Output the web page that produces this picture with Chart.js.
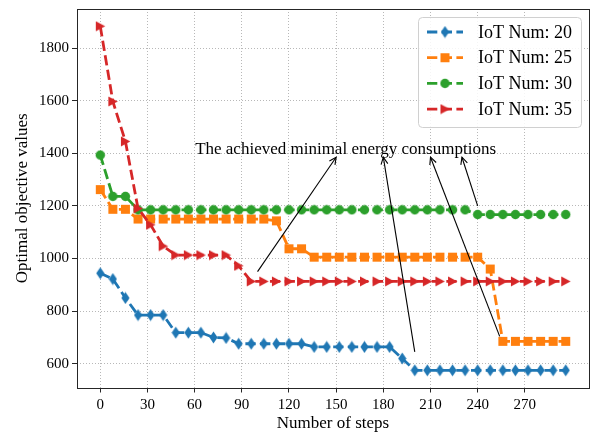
<!DOCTYPE html>
<html><head><meta charset="utf-8">
<script src="https://cdn.jsdelivr.net/npm/chart.js@4/dist/chart.umd.min.js"></script>
<style>html,body{margin:0;padding:0;background:#fff}#wrap{width:592px;height:435px}</style>
</head><body><div id="wrap"><canvas id="c" width="592" height="435"></canvas></div>
<script>
// ---- data ----
const steps = [0,8,16,24,32,40,48,56,64,72,80,88,96,104,112,120,128,136,144,152,160,168,176,184,192,200,208,216,224,232,240,248,256,264,272,280,288,296];
const iot20 = [944,922,850,785,785,785,718,718,718,700,698,676,676,676,676,676,676,664,664,664,664,664,664,664,620,575,575,575,575,575,575,575,575,575,575,575,575,575];
const iot25 = [1262,1187,1187,1150,1150,1150,1150,1150,1150,1150,1150,1150,1150,1150,1143,1037,1037,1005,1005,1005,1005,1005,1005,1005,1005,1005,1005,1005,1005,1005,1005,960,685,685,685,685,685,685];
const iot30 = [1393,1236,1236,1185,1185,1185,1185,1185,1185,1185,1185,1185,1185,1185,1185,1185,1185,1185,1185,1185,1185,1185,1185,1185,1185,1185,1185,1185,1185,1185,1167,1167,1167,1167,1167,1167,1167,1167];
const iot35 = [1883,1597,1445,1190,1128,1047,1013,1013,1013,1013,1013,972,913,913,913,913,913,913,913,913,913,913,913,913,913,913,913,913,913,913,913,913,913,913,913,913,913,913];
const seriesLabels = ['IoT Num: 20','IoT Num: 25','IoT Num: 30','IoT Num: 35'];
const xTicks = [0,30,60,90,120,150,180,210,240,270];
const xTickLabels = ['0','30','60','90','120','150','180','210','240','270'];
const yTicks = [600,800,1000,1200,1400,1600,1800];
const yTickLabels = ['600','800','1000','1200','1400','1600','1800'];
const xTitle = 'Number of steps';
const yTitle = 'Optimal objective values';
const annText = 'The achieved minimal energy consumptions';
const annTextPos = [156, 1397];
const arrowFrom = [[100,950],[200,645],[254,704],[240,1200]];
const arrowTo = [[150,1385],[180,1385],[210,1385],[230,1385]];

// ---- styles ----
const colors = ['#1f77b4','#ff7f0e','#2ca02c','#d62728'];
const FONT = '"Liberation Serif","Times New Roman",serif';

function marker(shape, color){
  const c = document.createElement('canvas');
  let w = 11, h = 11;
  if (shape === 'diamond'){ w = 9; h = 13; }
  c.width = w; c.height = h;
  const g = c.getContext('2d');
  g.fillStyle = color;
  g.beginPath();
  if (shape === 'diamond'){ g.moveTo(4.5,0.4); g.lineTo(8.6,6.5); g.lineTo(4.5,12.6); g.lineTo(0.4,6.5); g.closePath(); }
  else if (shape === 'square'){ g.rect(1,1,9,9); }
  else if (shape === 'circle'){ g.arc(5.5,5.5,4.7,0,Math.PI*2); }
  else { g.moveTo(1,0.6); g.lineTo(10.4,5.5); g.lineTo(1,10.4); g.closePath(); }
  g.fill();
  return c;
}
const markers = [marker('diamond',colors[0]), marker('square',colors[1]), marker('circle',colors[2]), marker('tri',colors[3])];
const seriesData = [iot20, iot25, iot30, iot35];

const datasets = seriesData.map((vals,i)=>({
  label: seriesLabels[i],
  data: steps.map((s,k)=>({x:s, y:vals[k]})),
  borderColor: colors[i],
  backgroundColor: colors[i],
  borderWidth: 2.8,
  borderDash: [10.3,4.4],
  pointStyle: markers[i],
  pointRadius: 5,
  pointHoverRadius: 5,
  tension: 0,
  fill: false,
  order: 4 - i
}));

function drawArrow(ctx, x1, y1, x2, y2){
  ctx.beginPath(); ctx.moveTo(x1,y1); ctx.lineTo(x2,y2); ctx.stroke();
  const ang = Math.atan2(y2-y1, x2-x1);
  const L = 7, W = 3.4;
  const bx = x2 - L*Math.cos(ang), by = y2 - L*Math.sin(ang);
  const px = -Math.sin(ang)*W, py = Math.cos(ang)*W;
  ctx.beginPath(); ctx.moveTo(bx+px, by+py); ctx.lineTo(x2,y2); ctx.lineTo(bx-px, by-py); ctx.stroke();
}

const overlay = {
  id: 'overlay',
  afterDraw(chart){
    const {ctx, chartArea:a, scales:{x, y}} = chart;
    ctx.save();
    // frame
    ctx.strokeStyle = '#262626'; ctx.lineWidth = 1; ctx.setLineDash([]);
    ctx.strokeRect(Math.round(a.left)+0.5, Math.round(a.top)+0.5, Math.round(a.right)-Math.round(a.left), Math.round(a.bottom)-Math.round(a.top));
    // annotation
    ctx.fillStyle = '#000'; ctx.font = '17px ' + FONT; ctx.textAlign = 'center'; ctx.textBaseline = 'alphabetic';
    ctx.fillText(annText, x.getPixelForValue(annTextPos[0]), y.getPixelForValue(annTextPos[1]));
    ctx.strokeStyle = '#000'; ctx.lineWidth = 1.1;
    arrowFrom.forEach((f,i)=>{
      drawArrow(ctx, x.getPixelForValue(f[0]), y.getPixelForValue(f[1]), x.getPixelForValue(arrowTo[i][0]), y.getPixelForValue(arrowTo[i][1]));
    });
    // legend
    const bx = 418, by = 17, bw = 163, bh = 110, r = 4;
    ctx.fillStyle = 'rgba(255,255,255,0.85)'; ctx.strokeStyle = '#d0d0d0'; ctx.lineWidth = 1;
    ctx.beginPath();
    ctx.moveTo(bx+r+0.5, by+0.5); ctx.lineTo(bx+bw-r+0.5, by+0.5); ctx.arcTo(bx+bw+0.5, by+0.5, bx+bw+0.5, by+r+0.5, r);
    ctx.lineTo(bx+bw+0.5, by+bh-r+0.5); ctx.arcTo(bx+bw+0.5, by+bh+0.5, bx+bw-r+0.5, by+bh+0.5, r);
    ctx.lineTo(bx+r+0.5, by+bh+0.5); ctx.arcTo(bx+0.5, by+bh+0.5, bx+0.5, by+bh-r+0.5, r);
    ctx.lineTo(bx+0.5, by+r+0.5); ctx.arcTo(bx+0.5, by+0.5, bx+r+0.5, by+0.5, r);
    ctx.closePath(); ctx.fill(); ctx.stroke();
    chart.data.datasets.forEach((ds,i)=>{
      const cy = 32 + i*25.7;
      ctx.strokeStyle = colors[i]; ctx.lineWidth = 2.8; ctx.setLineDash([10.3,4.4]);
      ctx.beginPath(); ctx.moveTo(427, cy); ctx.lineTo(463, cy); ctx.stroke();
      ctx.setLineDash([]);
      const m = markers[i];
      ctx.drawImage(m, 445 - m.width/2, cy - m.height/2);
      ctx.fillStyle = '#000'; ctx.font = '18px ' + FONT; ctx.textAlign = 'left'; ctx.textBaseline = 'middle';
      ctx.fillText(ds.label, 478, cy + 1);
    });
    ctx.restore();
  }
};

new Chart(document.getElementById('c'), {
  type: 'line',
  data: { datasets },
  options: {
    responsive: false,
    devicePixelRatio: 1,
    animation: false,
    events: [],
    layout: { autoPadding: false, padding: { left: 0, right: 3, top: 9, bottom: 0 } },
    plugins: { legend: { display: false }, tooltip: { enabled: false } },
    scales: {
      x: {
        type: 'linear', min: -14.8, max: 310.8,
        afterBuildTicks: s => { s.ticks = xTicks.map(v => ({value: v})); },
        afterFit: s => { s.height = 47.5; s.paddingLeft = 0; s.paddingRight = 0; },
        ticks: { font: { family: FONT, size: 15 }, color: '#000', padding: 4, maxRotation: 0, autoSkip: false,
                 callback: v => xTickLabels[xTicks.indexOf(v)] },
        grid: { color: '#b8b8b8', lineWidth: 1, tickLength: 5, tickColor: '#262626', tickWidth: 1 },
        border: { display: false, dash: [1,2] },
        title: { display: true, text: xTitle, font: { family: FONT, size: 17 }, color: '#000', padding: { top: 0, bottom: 1 } }
      },
      y: {
        type: 'linear', min: 509.6, max: 1948.4,
        afterBuildTicks: s => { s.ticks = yTicks.map(v => ({value: v})); },
        afterFit: s => { s.width = 77; s.paddingTop = 0; s.paddingBottom = 0; },
        ticks: { font: { family: FONT, size: 15 }, color: '#000', padding: 3, autoSkip: false,
                 callback: v => yTickLabels[yTicks.indexOf(v)] },
        grid: { color: '#b8b8b8', lineWidth: 1, tickLength: 5, tickColor: '#262626', tickWidth: 1 },
        border: { display: false, dash: [1,2] },
        title: { display: true, text: yTitle, font: { family: FONT, size: 17 }, color: '#000', padding: { top: 12, bottom: 0 } }
      }
    }
  },
  plugins: [overlay]
});
</script>
</body></html>
